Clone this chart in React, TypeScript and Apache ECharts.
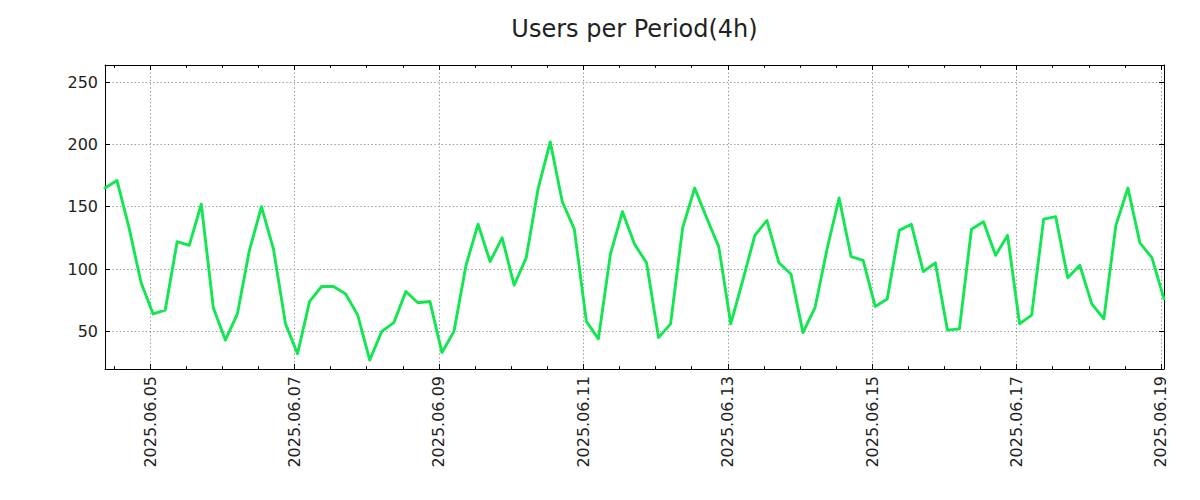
import React, { useEffect, useRef } from 'react';
import * as echarts from 'echarts';

// ---- data ----
const TITLE = 'Users per Period(4h)';
const REF_DAY_UTC = Date.UTC(2025, 5, 5, 0, 0); // 2025.06.05 00:00 -> axis value 0 (days)
const FIRST_PERIOD_UTC = Date.UTC(2025, 5, 4, 9, 0); // 2025.06.04 09:00
const PERIOD_HOURS = 4;
const USERS: number[] = [
  165, 171, 133, 89, 64, 67, 122, 119, 152, 69,
  43, 64, 115, 150, 116, 56, 32, 74, 86, 86,
  80, 63, 27, 50, 57, 82, 73, 74, 33, 50,
  103, 136, 106, 125, 87, 109, 165, 202, 154, 132,
  58, 44, 112, 146, 120, 105, 45, 56, 133, 165,
  141, 118, 56, 91, 127, 139, 105, 96, 49, 69,
  116, 157, 110, 107, 70, 76, 131, 136, 98, 105,
  51, 52, 132, 138, 111, 127, 56, 63, 140, 142,
  93, 103, 72, 60, 135, 165, 121, 109, 76,
];
const Y_MIN = 19.8;
const Y_MAX = 263.7;

const HOUR = 3600000;
const DAY = 24 * HOUR;

// x positions in days relative to 2025.06.05 00:00 (UTC)
const X_DAYS = USERS.map((_, i) => (FIRST_PERIOD_UTC - REF_DAY_UTC) / DAY + (i * PERIOD_HOURS) / 24);
const X_MIN = X_DAYS[0];
const X_MAX = X_DAYS[X_DAYS.length - 1];

const FONT = 'DejaVu Sans';
const TEXT_COLOR = '#222222';
const LINE_COLOR = '#12e650';
const GRID_COLOR = '#9a9a9a';

const pad = (n: number) => (n < 10 ? '0' + n : '' + n);
const fmtDate = (v: number) => {
  if (Math.abs(v - Math.round(v)) > 1e-6) return '';
  const d = new Date(REF_DAY_UTC + Math.round(v) * DAY);
  return `${d.getUTCFullYear()}.${pad(d.getUTCMonth() + 1)}.${pad(d.getUTCDate())}`;
};
const fmtY = (v: number) => (Math.abs(v % 50) > 1e-6 ? '' : String(v));

const gridLine = { show: true, showMinLine: false, showMaxLine: false, lineStyle: { color: GRID_COLOR, width: 1, type: [1.4, 2.3] } };
const frameLine = { show: true, onZero: false, lineStyle: { color: '#000', width: 1 } };
const noLine = { show: false, onZero: false };
const majorTick = { show: true, inside: true, length: 5, lineStyle: { color: '#000', width: 1 } };
const minorTickStyle = { show: true, inside: true, length: 2.8, lineStyle: { color: '#000', width: 1 } };

function buildOption(): any {
  // major ticks: nice interval of 2 days; minor ticks: nice interval of 0.5 day
  const xMajor = { type: 'value', min: X_MIN, max: X_MAX, splitNumber: 7 };
  const xMinor = { type: 'value', min: X_MIN, max: X_MAX, splitNumber: 29 };
  const yBase = { type: 'value', min: Y_MIN, max: Y_MAX, splitNumber: 5 };
  return {
    animation: false,
    backgroundColor: '#ffffff',
    title: {
      text: TITLE,
      left: 634.5,
      top: 17,
      padding: 0,
      textAlign: 'center',
      textStyle: { fontFamily: FONT, fontSize: 24, fontWeight: 'normal', color: TEXT_COLOR },
    },
    grid: { left: 105, right: 36, top: 65, bottom: 131, containLabel: false },
    xAxis: [
      {
        ...xMajor,
        position: 'bottom',
        axisLine: frameLine,
        axisTick: majorTick,
        axisLabel: { show: true, rotate: 90, margin: 7, formatter: fmtDate, fontFamily: FONT, fontSize: 16, color: TEXT_COLOR },
        splitLine: gridLine,
      },
      {
        ...xMajor,
        position: 'top',
        axisLine: frameLine,
        axisTick: majorTick,
        axisLabel: { show: false },
        splitLine: { show: false },
      },
      {
        ...xMinor,
        position: 'bottom',
        axisLine: noLine,
        axisTick: minorTickStyle,
        axisLabel: { show: false },
        splitLine: { show: false },
      },
      {
        ...xMinor,
        position: 'top',
        axisLine: noLine,
        axisTick: minorTickStyle,
        axisLabel: { show: false },
        splitLine: { show: false },
      },
    ],
    yAxis: [
      {
        ...yBase,
        position: 'left',
        axisLine: frameLine,
        axisTick: majorTick,
        axisLabel: { show: true, margin: 7, formatter: fmtY, fontFamily: FONT, fontSize: 16, color: TEXT_COLOR },
        splitLine: gridLine,
      },
      {
        ...yBase,
        position: 'right',
        axisLine: frameLine,
        axisTick: majorTick,
        axisLabel: { show: false },
        splitLine: { show: false },
      },
    ],
    series: [
      {
        name: 'Users',
        type: 'line',
        xAxisIndex: 0,
        yAxisIndex: 0,
        data: X_DAYS.map((x, i) => [x, USERS[i]]),
        showSymbol: false,
        symbol: 'none',
        clip: true,
        lineStyle: { color: LINE_COLOR, width: 2.9, cap: 'round', join: 'round' },
        z: 5,
      },
    ],
  };
}

export default function App() {
  const ref = useRef<HTMLDivElement>(null);
  useEffect(() => {
    if (!ref.current) return;
    const chart = echarts.init(ref.current, null, { renderer: 'svg' });
    chart.setOption(buildOption());
    return () => chart.dispose();
  }, []);
  return (
    <div
      ref={ref}
      style={{ position: 'fixed', left: 0, top: 0, width: 1200, height: 500, background: '#ffffff' }}
    />
  );
}
